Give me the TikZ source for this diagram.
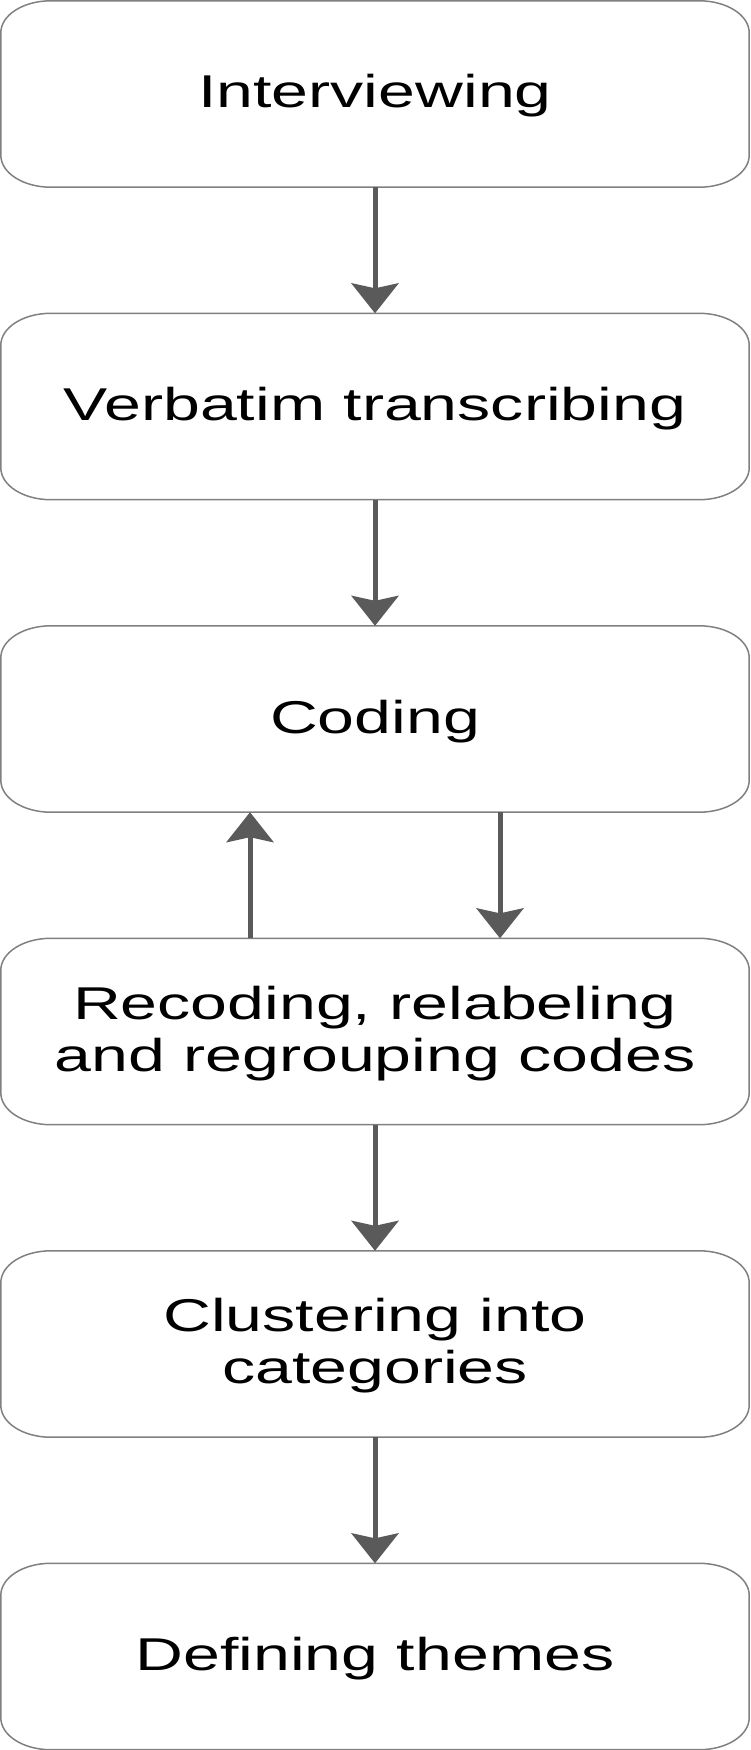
\documentclass[tikz,border=0pt]{standalone}
\usepackage{fontspec}
\setmainfont{Liberation Sans}
\usetikzlibrary{arrows.meta}
\definecolor{boxgray}{HTML}{808080}
\definecolor{arrowgray}{HTML}{5A5A5A}
\newcommand\stretchtext[1]{\scalebox{1.44}[1]{#1}}
\newcommand\roundbox[1]{%
  \draw[boxline] ([xshift=50pt]#1.north west) -- ([xshift=-50pt]#1.north east)
    arc[start angle=90,end angle=0,x radius=50pt,y radius=32pt]
    -- ([yshift=32pt]#1.south east)
    arc[start angle=0,end angle=-90,x radius=50pt,y radius=32pt]
    -- ([xshift=50pt]#1.south west)
    arc[start angle=270,end angle=180,x radius=50pt,y radius=32pt]
    -- ([yshift=-32pt]#1.north west)
    arc[start angle=180,end angle=90,x radius=50pt,y radius=32pt] -- cycle;}
\begin{document}
\begin{tikzpicture}[x=1pt,y=1pt,
  stage/.style={rectangle, minimum width=748pt, minimum height=186pt, inner sep=0pt},
  boxline/.style={draw=boxgray, line width=1.5pt},
  flow/.style={draw=arrowgray, line width=5pt, -{Stealth[length=30pt,width=47pt,inset=5pt]}},
  stagetext/.style={font=\fontsize{46}{52}\selectfont, anchor=base, inner sep=0pt}
]
\useasboundingbox (0,0) rectangle (750,-1750);
\node[stage] (b1) at (375,-94) {};
\node[stage] (b2) at (375,-406.5) {};
\node[stage] (b3) at (375,-719) {};
\node[stage] (b4) at (375,-1031.5) {};
\node[stage] (b5) at (375,-1344) {};
\node[stage] (b6) at (375,-1656.5) {};
\roundbox{b1}
\roundbox{b2}
\roundbox{b3}
\roundbox{b4}
\roundbox{b5}
\roundbox{b6}
\node[stagetext] (t1) at (375,-108) {\stretchtext{Interviewing}};
\node[stagetext] (t2) at (375,-420.5) {\stretchtext{Verbatim transcribing}};
\node[stagetext] (t3) at (375,-733) {\stretchtext{Coding}};
\node[stagetext] (t4a) at (375,-1019) {\stretchtext{Recoding, relabeling}};
\node[stagetext] (t4b) at (375,-1071) {\stretchtext{and regrouping codes}};
\node[stagetext] (t5a) at (375,-1331.5) {\stretchtext{Clustering into}};
\node[stagetext] (t5b) at (375,-1383.5) {\stretchtext{categories}};
\node[stagetext] (t6) at (375,-1670.5) {\stretchtext{Defining themes}};
\draw[flow] (b1.south) -- (b2.north);
\draw[flow] (b2.south) -- (b3.north);
\draw[flow] ([xshift=-125pt]b4.north) -- ([xshift=-125pt]b3.south);
\draw[flow] ([xshift=125pt]b3.south) -- ([xshift=125pt]b4.north);
\draw[flow] (b4.south) -- (b5.north);
\draw[flow] (b5.south) -- (b6.north);
\end{tikzpicture}
\end{document}
